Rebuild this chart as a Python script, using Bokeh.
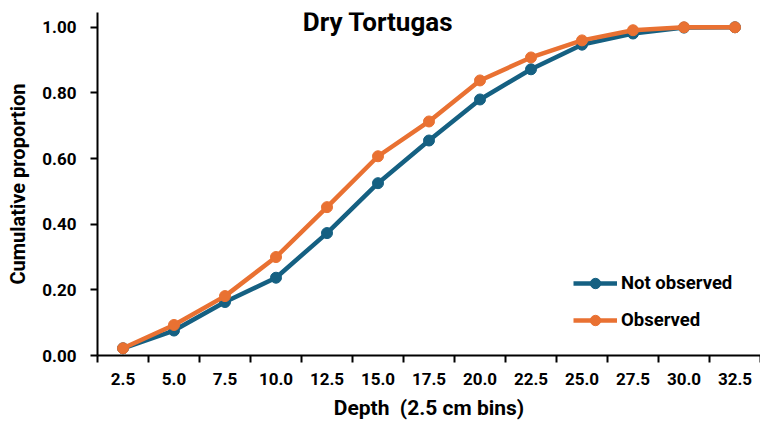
from bokeh.plotting import figure
from bokeh.models import (Range1d, FixedTicker, NumeralTickFormatter, Legend, LegendItem, Label)
from bokeh.embed import file_html
from bokeh.resources import INLINE

depth = [2.5, 5.0, 7.5, 10.0, 12.5, 15.0, 17.5, 20.0, 22.5, 25.0, 27.5, 30.0, 32.5]
not_observed = [0.022, 0.076, 0.163, 0.237, 0.373, 0.525, 0.655, 0.780, 0.872, 0.947, 0.981, 0.999, 1.000]
observed = [0.022, 0.093, 0.181, 0.300, 0.452, 0.607, 0.713, 0.838, 0.908, 0.960, 0.991, 1.000, 1.000]
y_ticks = [0.0, 0.2, 0.4, 0.6, 0.8, 1.0]

title_text = "Dry Tortugas"
x_title = "Depth\u00a0 (2.5 cm bins)"
y_title = "Cumulative proportion"
names = ["Not observed", "Observed"]
colors = ["#156082", "#E97132"]

FONT = "Roboto"
step = depth[1] - depth[0]
bounds = [d - step / 2 for d in depth] + [depth[-1] + step / 2]

p = figure(width=760, height=431, output_backend="svg", toolbar_location=None,
           x_range=Range1d(bounds[0], bounds[-1]), y_range=Range1d(0, 1.045),
           min_border_left=97, min_border_right=0, min_border_top=12, min_border_bottom=76)
p.outline_line_color = None
p.xgrid.visible = False
p.ygrid.visible = False

r1 = p.line(depth, not_observed, line_color=colors[0], line_width=4.5)
s1 = p.scatter(depth, not_observed, size=11, fill_color=colors[0], line_color=colors[0])
r2 = p.line(depth, observed, line_color=colors[1], line_width=4.5)
s2 = p.scatter(depth, observed, size=11, fill_color=colors[1], line_color=colors[1])

# x axis
xa = p.xaxis[0]
xa.ticker = FixedTicker(ticks=depth, minor_ticks=bounds)
xa.formatter = NumeralTickFormatter(format="0.0")
xa.major_tick_line_color = None
xa.minor_tick_in = 0
xa.minor_tick_out = 7
xa.minor_tick_line_color = "black"
xa.minor_tick_line_width = 2
xa.axis_line_color = "black"
xa.axis_line_width = 2
xa.major_label_text_font = FONT
xa.major_label_text_font_style = "bold"
xa.major_label_text_font_size = "17px"
xa.major_label_text_color = "black"
xa.major_label_standoff = 10
xa.axis_label = x_title
xa.axis_label_text_font = FONT
xa.axis_label_text_font_style = "bold"
xa.axis_label_text_font_size = "21px"
xa.axis_label_text_color = "black"
xa.axis_label_standoff = 8

ya = p.yaxis[0]
ya.ticker = FixedTicker(ticks=y_ticks, minor_ticks=[])
ya.formatter = NumeralTickFormatter(format="0.00")
ya.major_tick_in = 0
ya.major_tick_out = 7
ya.major_tick_line_color = "black"
ya.major_tick_line_width = 2
ya.axis_line_color = "black"
ya.axis_line_width = 2
ya.major_label_text_font = FONT
ya.major_label_text_font_style = "bold"
ya.major_label_text_font_size = "17px"
ya.major_label_text_color = "black"
ya.major_label_standoff = 14
ya.axis_label = y_title
ya.axis_label_text_font = FONT
ya.axis_label_text_font_style = "bold"
ya.axis_label_text_font_size = "20px"
ya.axis_label_text_color = "black"
ya.axis_label_standoff = 9

title = Label(x=(bounds[0] + bounds[-1]) / 2 - 2.5, y=1.015, text=title_text,
              text_font=FONT, text_font_style="bold", text_font_size="26px",
              text_align="center", text_baseline="middle", text_color="black")
p.add_layout(title)

legend = Legend(items=[LegendItem(label=names[0], renderers=[r1, s1]),
                       LegendItem(label=names[1], renderers=[r2, s2])],
                location=(476, 22), orientation="vertical",
                glyph_width=44, glyph_height=26, label_height=20, spacing=11,
                padding=0, margin=0, label_standoff=4,
                border_line_color=None, background_fill_alpha=0,
                label_text_font=FONT, label_text_font_style="bold",
                label_text_font_size="18.5px", label_text_color="black")
p.add_layout(legend)

open("out.html", "w").write(file_html(p, INLINE))
